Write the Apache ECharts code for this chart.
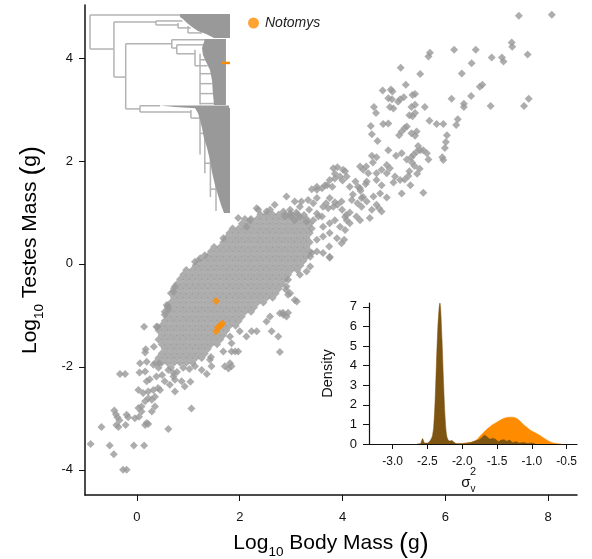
<!DOCTYPE html>
<html><head><meta charset="utf-8">
<script src="https://cdn.jsdelivr.net/npm/echarts@6/dist/echarts.min.js"></script>
<style>html,body{margin:0;padding:0;background:#fff}#c{width:592px;height:559px}</style>
</head><body><div id="c"></div>
<script>
// ---------- tick labels ----------
const xTicks = [0, 2, 4, 6, 8];
const yTicks = [-4, -2, 0, 2, 4];
const densXTicks = [-3.0, -2.5, -2.0, -1.5, -1.0, -0.5];
const densYTicks = [0, 1, 2, 3, 4, 5, 6, 7];

// ---------- scatter: dense core, rows of [log testes, [log body ...]] ----------
const coreRows = [
 [0.96,[2.40,2.52,2.64,2.76,2.88,3.00,3.12]],
 [0.87,[2.10,2.22,2.34,2.46,2.58,2.70,2.82,2.94,3.06,3.18,3.30]],
 [0.78,[2.04,2.16,2.28,2.40,2.52,2.64,2.76,2.88,3.00,3.12,3.24,3.36]],
 [0.69,[1.86,1.98,2.10,2.22,2.34,2.46,2.58,2.70,2.82,2.94,3.06,3.18,3.30,3.40]],
 [0.60,[1.80,1.92,2.04,2.16,2.28,2.40,2.52,2.64,2.76,2.88,3.00,3.12,3.24,3.36]],
 [0.51,[1.74,1.86,1.98,2.10,2.22,2.34,2.46,2.58,2.70,2.82,2.94,3.06,3.18,3.30]],
 [0.42,[1.68,1.80,1.92,2.04,2.16,2.28,2.40,2.52,2.64,2.76,2.88,3.00,3.12,3.24,3.36]],
 [0.33,[1.50,1.62,1.74,1.86,1.98,2.10,2.22,2.34,2.46,2.58,2.70,2.82,2.94,3.06,3.18,3.30]],
 [0.24,[1.44,1.56,1.68,1.80,1.92,2.04,2.16,2.28,2.40,2.52,2.64,2.76,2.88,3.00,3.12,3.24,3.36]],
 [0.15,[1.38,1.50,1.62,1.74,1.86,1.98,2.10,2.22,2.34,2.46,2.58,2.70,2.82,2.94,3.06,3.18,3.30]],
 [0.06,[1.20,1.32,1.44,1.56,1.68,1.80,1.92,2.04,2.16,2.28,2.40,2.52,2.64,2.76,2.88,3.00,3.12,3.24]],
 [-0.03,[1.14,1.26,1.38,1.50,1.62,1.74,1.86,1.98,2.10,2.22,2.34,2.46,2.58,2.70,2.82,2.94,3.06,3.18]],
 [-0.12,[0.96,1.08,1.20,1.32,1.44,1.56,1.68,1.80,1.92,2.04,2.16,2.28,2.40,2.52,2.64,2.76,2.88,3.00,3.12]],
 [-0.21,[0.90,1.02,1.14,1.26,1.38,1.50,1.62,1.74,1.86,1.98,2.10,2.22,2.34,2.46,2.58,2.70,2.82,2.94]],
 [-0.30,[0.84,0.96,1.08,1.20,1.32,1.44,1.56,1.68,1.80,1.92,2.04,2.16,2.28,2.40,2.52,2.64,2.76,2.88]],
 [-0.39,[0.78,0.90,1.02,1.14,1.26,1.38,1.50,1.62,1.74,1.86,1.98,2.10,2.22,2.34,2.46,2.58,2.70,2.82]],
 [-0.48,[0.72,0.84,0.96,1.08,1.20,1.32,1.44,1.56,1.68,1.80,1.92,2.04,2.16,2.28,2.40,2.52,2.64,2.76]],
 [-0.57,[0.66,0.78,0.90,1.02,1.14,1.26,1.38,1.50,1.62,1.74,1.86,1.98,2.10,2.22,2.34,2.46,2.58,2.70]],
 [-0.66,[0.72,0.84,0.96,1.08,1.20,1.32,1.44,1.56,1.68,1.80,1.92,2.04,2.16,2.28,2.40,2.52,2.64]],
 [-0.75,[0.66,0.78,0.90,1.02,1.14,1.26,1.38,1.50,1.62,1.74,1.86,1.98,2.10,2.22,2.34,2.46]],
 [-0.84,[0.60,0.72,0.84,0.96,1.08,1.20,1.32,1.44,1.56,1.68,1.80,1.92,2.04,2.16,2.28]],
 [-0.93,[0.54,0.66,0.78,0.90,1.02,1.14,1.26,1.38,1.50,1.62,1.74,1.86,1.98,2.10,2.22]],
 [-1.02,[0.60,0.72,0.84,0.96,1.08,1.20,1.32,1.44,1.56,1.68,1.80,1.92,2.04]],
 [-1.11,[0.54,0.66,0.78,0.90,1.02,1.14,1.26,1.38,1.50,1.62,1.74,1.86,1.98]],
 [-1.20,[0.48,0.60,0.72,0.84,0.96,1.08,1.20,1.32,1.44,1.56,1.68,1.80,1.92]],
 [-1.29,[0.42,0.54,0.66,0.78,0.90,1.02,1.14,1.26,1.38,1.50,1.62,1.74]],
 [-1.38,[0.48,0.60,0.72,0.84,0.96,1.08,1.20,1.32,1.44,1.56,1.68]],
 [-1.47,[0.42,0.54,0.66,0.78,0.90,1.02,1.14,1.26,1.38,1.50,1.62]],
 [-1.56,[0.48,0.60,0.72,0.84,0.96,1.08,1.20,1.32,1.44,1.56]],
 [-1.65,[0.54,0.66,0.78,0.90,1.02,1.14,1.26,1.38]],
 [-1.74,[0.48,0.60,0.72,0.84,0.96,1.08,1.20,1.32]],
 [-1.83,[0.42,0.54,0.66,0.78,0.90,1.02,1.14,1.26]],
 [-1.92,[0.36,0.48,0.60,0.72,0.84,0.96,1.08]]
];

// ---------- scatter: remaining species [log body, log testes] ----------
const otherPoints = [
 [-0.90,-3.50],[-0.53,-3.53],[-0.45,-3.70],[-0.27,-4.00],[-0.20,-4.00],[-0.06,-3.53],[0.14,-3.53],
 [-0.69,-3.17],[-0.44,-2.85],[-0.41,-2.92],[-0.38,-2.98],[-0.34,-3.04],[-0.40,-3.13],[-0.36,-3.17],
 [-0.20,-2.93],[-0.17,-2.98],[-0.22,-3.13],[-0.33,-2.14],[-0.23,-2.14],
 [-0.04,-3.00],[0.04,-2.97],[0.03,-2.80],[0.09,-2.77],[0.19,-3.09],[0.16,-3.13],[0.22,-3.11],
 [0.61,-3.21],[1.06,-2.81],
 [0.03,-2.45],[0.12,-2.51],[0.22,-2.48],[0.32,-2.45],[0.41,-2.41],[0.19,-2.28],[0.25,-2.24],[0.38,-2.19],
 [0.49,-2.16],[0.54,-2.28],[0.64,-2.35],[0.74,-2.48],[0.71,-2.19],[0.87,-2.28],[0.93,-2.38],[1.04,-2.29],
 [0.22,-2.61],[0.29,-2.64],[0.35,-2.77],[0.16,-2.67],[0.35,-2.58],[0.45,-2.45],[0.29,-2.87],[0.09,-2.87],
 [0.61,-2.06],[0.71,-2.12],[0.74,-2.25],[0.16,-2.09],[0.06,-1.93],[0.32,-1.96],[0.19,-1.90],[0.43,-1.93],
 [0.42,-2.02],[0.66,-2.02],[0.90,-2.02],[1.02,-2.04],[0.78,-2.10],[0.05,-2.11],
 [0.14,-1.22],[0.40,-1.22],[0.33,-1.61],[0.17,-1.66],[0.16,-1.72],[0.60,-0.82],
 [1.36,-2.14],[1.45,-1.99],[1.13,-1.99],[1.26,-2.06],[1.42,-1.86],[1.44,-1.81],[1.78,-2.03],[1.71,-1.99],
 [1.68,-1.70],[1.84,-1.70],[1.97,-1.70],[1.84,-1.54],[1.81,-1.41],[2.00,-1.31],
 [3.75,0.12],[3.17,-0.21],[3.30,-0.15],[3.37,-0.05],[3.40,0.21],[3.37,0.14],[3.11,-0.73],[2.84,-0.95],
 [2.94,-0.95],[2.75,-1.41],[2.78,-1.71],[2.62,-1.31],[2.23,-1.31],[2.33,-1.31],[2.13,-1.41],[1.91,-1.70],
 [1.84,-1.99],[1.81,-1.93],
 [2.94,-0.31],[2.91,-0.44],[2.98,-0.57],[2.52,-1.12],[2.59,-1.02],[2.85,-0.99],[2.91,-1.02],[2.78,-0.96],
 [3.07,-0.70],[2.94,-0.60],[2.90,-0.50],
 [1.13,0.04],[1.23,0.11],[1.32,0.17],[0.74,-0.44],[0.71,-0.54],[0.58,-0.80],[0.61,-0.89],[0.38,-1.22],
 [0.54,-0.99],[1.68,0.50],
 [2.68,1.15],[2.59,1.05],[2.85,1.02],[2.98,1.05],[3.17,1.11],[2.36,1.05],[2.52,1.02],[1.97,0.89],
 [2.20,0.85],[2.13,0.72],[2.33,1.08],[2.91,1.31],[3.07,1.21],[3.20,1.21],[3.33,1.24],[3.50,1.28],
 [3.40,1.45],[3.50,1.50],[3.60,1.47],[3.70,1.53],[3.80,1.50],[3.75,1.63],[3.85,1.75],[3.95,1.70],
 [4.05,1.80],[3.90,1.88],[4.00,1.62],
 [3.68,1.18],[3.75,1.28],[3.85,1.20],[3.90,1.15],[3.72,1.08],[3.99,1.05],[4.07,0.95],[4.14,1.00],[4.05,0.91],
 [3.10,1.00],[3.25,0.95],[3.35,1.05],[3.50,0.98],[3.60,0.92],[3.00,0.92],
 [4.27,0.92],[4.34,0.85],[4.53,0.89],[4.57,1.05],[4.29,1.18],[4.37,1.11],[4.47,1.21],
 [4.08,0.85],[4.03,0.47],[3.74,0.34],[3.75,0.14],
 [4.20,1.35],[4.30,1.50],[4.35,1.42],[4.45,1.55],[4.40,1.30],[4.25,1.60],
 [4.71,1.08],[4.76,1.02],[4.66,1.15],
 [4.86,1.29],[5.15,1.37],[5.32,1.53],[5.57,1.38],
 [5.28,1.71],[5.21,1.64],[5.12,1.63],[5.02,1.70],[4.99,1.58],
 [4.86,1.92],[4.92,1.86],[4.76,1.83],[4.86,1.76],
 [4.57,2.10],[4.66,2.07],[4.59,1.97],[4.40,1.83],[4.50,1.76],[4.66,1.76],[4.34,1.89],[4.46,1.89],
 [5.30,1.80],[5.40,1.90],[5.50,1.85],[5.35,1.97],[5.45,1.75],
 [5.04,2.10],[5.15,2.15],[5.25,2.03],[5.34,2.07],[5.38,2.12],[4.89,2.21],
 [5.47,2.29],[5.51,2.21],[5.44,2.18],[5.57,2.21],[5.64,2.15],[5.67,2.03],
 [5.94,2.07],[5.96,2.02],[6.03,2.50],[6.01,2.37],[5.99,2.25],
 [4.68,2.39],[4.57,2.52],[4.55,2.68],[4.79,2.72],[4.89,2.73],
 [5.15,2.57],[5.21,2.64],[5.25,2.67],[5.10,2.50],[5.34,2.54],[5.41,2.49],[5.44,2.57],
 [5.69,2.78],[5.83,2.72],[5.96,2.72],[5.30,2.89],[5.36,2.87],[5.41,2.93],
 [5.34,3.05],[5.41,3.09],[5.60,3.05],[4.61,3.05],[4.65,2.93],[4.92,3.05],[4.99,3.02],
 [4.89,3.22],[4.96,3.20],[5.08,3.15],[5.12,3.20],[5.19,3.24],[5.36,3.28],[5.41,3.30],
 [4.78,3.37],[4.94,3.39],[4.97,3.35],[5.23,3.48],[5.51,3.69],
 [7.43,4.82],[8.07,4.84],[7.29,4.30],[7.30,4.22],[7.60,4.07],[6.90,4.01],[7.10,4.01],[7.13,3.93],
 [6.59,4.16],[6.17,4.16],[6.51,3.90],[5.70,4.10],[5.67,4.03],[5.13,3.81],[6.32,3.70],[6.72,3.48],
 [6.67,3.44],[6.50,3.26],[6.12,3.21],[6.36,3.11],[6.36,3.05],[6.88,3.07],[7.62,3.21],[7.53,3.07],
 [6.24,2.81],[6.21,2.70],
 [2.88,0.92],[2.98,0.98],[3.07,0.85],[3.17,0.92],[3.30,0.82],[3.43,0.85],[3.53,0.92],[3.62,0.72],
 [3.75,0.79],[3.85,0.85],[3.95,0.72],[4.05,0.66],[4.14,0.79],[3.50,0.47],[3.62,0.53],[3.75,0.60],
 [3.89,0.50],[3.98,0.40],[3.50,0.24],[3.62,0.21],
 [3.82,1.86],[4.01,1.83],[4.08,1.70],[3.85,1.66],[3.66,1.53],[3.50,1.44],[4.14,1.50],[4.34,1.47],
 [4.47,1.60],[4.66,1.63],[4.76,1.53],[4.73,1.37],[4.60,1.31],[4.37,1.28],[4.18,1.24],[3.98,1.21],
 [3.82,1.11],[3.62,1.11],[3.43,1.18]
];

// ---------- Notomys species ----------
const notomysPoints = [[1.54,-0.72],[1.62,-1.20],[1.66,-1.16],[1.58,-1.23],[1.54,-1.31]];

// ---------- posterior densities of sigma_v^2 ----------
const densityNotomys = [
 [-2.05,0],[-1.98,0.03],[-1.90,0.06],[-1.84,0.12],[-1.79,0.22],[-1.74,0.42],[-1.69,0.6],[-1.65,0.74],
 [-1.58,0.95],[-1.51,1.1],[-1.45,1.22],[-1.41,1.3],[-1.36,1.35],[-1.31,1.37],[-1.26,1.36],[-1.22,1.31],
 [-1.17,1.17],[-1.12,0.99],[-1.07,0.85],[-1.03,0.73],[-0.98,0.63],[-0.93,0.54],[-0.88,0.43],[-0.84,0.33],
 [-0.79,0.22],[-0.74,0.12],[-0.69,0.05],[-0.64,0.02],[-0.58,0]
];
const densityOther = [
 [-2.65,0],[-2.60,0.02],[-2.57,0.28],[-2.54,0.05],[-2.50,0.05],[-2.46,0.18],[-2.43,0.4],[-2.41,0.9],
 [-2.39,2.2],[-2.37,4.2],[-2.35,6.0],[-2.33,7.05],[-2.32,7.2],[-2.31,6.9],[-2.29,5.3],[-2.27,3.3],
 [-2.25,1.6],[-2.23,0.6],[-2.21,0.25],[-2.18,0.15],[-2.15,0.18],[-2.12,0.1],[-2.08,0.02],[-2.00,0.02],
 [-1.95,0.05],[-1.88,0.08],[-1.82,0.15],[-1.76,0.22],[-1.72,0.32],[-1.68,0.45],[-1.64,0.36],[-1.60,0.25],
 [-1.56,0.3],[-1.52,0.24],[-1.48,0.12],[-1.44,0.2],[-1.40,0.22],[-1.36,0.14],[-1.32,0.2],[-1.28,0.08],
 [-1.22,0.12],[-1.18,0.05],[-1.12,0.08],[-1.06,0.03],[-1.00,0.05],[-0.95,0]
];

// ---------- phylogeny inset (depth 0..1, tip order 0..1) ----------
const treeBranches = [
 [0,0.005,0,0.176],[0,0.005,0.643,0.005],[0,0.176,0.171,0.176],
 [0.171,0.04,0.171,0.317],[0.171,0.04,0.471,0.04],[0.171,0.317,0.255,0.317],
 [0.255,0.149,0.255,0.477],[0.255,0.149,0.584,0.149],[0.255,0.477,0.357,0.477],
 [0.357,0.461,0.357,0.492],[0.357,0.461,0.5,0.461],[0.357,0.492,0.721,0.492],
 [0.471,0.035,0.471,0.055],[0.471,0.035,0.66,0.035],[0.471,0.055,0.629,0.055],
 [0.629,0.045,0.629,0.07],[0.629,0.07,0.72,0.07],[0.7,0.06,0.7,0.095],[0.7,0.095,0.8,0.095],
 [0.584,0.129,0.584,0.171],[0.584,0.129,0.83,0.129],[0.584,0.171,0.62,0.171],
 [0.62,0.155,0.62,0.2],[0.62,0.155,0.82,0.155],[0.62,0.2,0.75,0.2],
 [0.75,0.18,0.75,0.26],[0.75,0.26,0.84,0.26],[0.786,0.2,0.786,0.455],
 [0.786,0.23,0.86,0.23],[0.786,0.3,0.87,0.3],[0.786,0.35,0.87,0.35],[0.786,0.4,0.88,0.4],[0.786,0.45,0.89,0.45],
 [0.721,0.482,0.721,0.523],[0.721,0.523,0.786,0.523],[0.786,0.51,0.786,0.706],
 [0.786,0.6,0.82,0.6],[0.82,0.58,0.82,0.8],[0.82,0.75,0.86,0.75],[0.86,0.72,0.86,0.92],
 [0.86,0.88,0.9,0.88],[0.9,0.85,0.9,0.99]
];
const treeClades = [
 [[0.643,0],[1,0],[1,0.121],[0.886,0.121],[0.829,0.101],[0.771,0.085],[0.729,0.065],[0.693,0.045],[0.664,0.025],[0.643,0.015]],
 [[0.821,0.126],[0.971,0.126],[0.971,0.457],[0.886,0.457],[0.879,0.407],[0.871,0.332],[0.857,0.281],[0.829,0.241],[0.807,0.206],[0.8,0.171],[0.814,0.141]],
 [[0.5,0.46],[0.993,0.46],[0.993,0.472],[0.786,0.475],[0.607,0.467]],
 [[0.75,0.472],[1,0.472],[1,1],[0.957,1],[0.936,0.96],[0.914,0.91],[0.893,0.859],[0.871,0.794],[0.857,0.734],[0.836,0.673],[0.814,0.623],[0.8,0.573],[0.786,0.533],[0.771,0.497]]
];
const notomysTip = [[0.94,0.246,1.0,0.246]];

// ---------- build ----------
const FONT = "'Liberation Sans', Arial, Helvetica, sans-serif";
const GREY = '#999999', ORANGE = '#FF8C00', BROWN = '#7E5412';
const speciesPoints = [];
coreRows.forEach(r => r[1].forEach(x => speciesPoints.push([x, r[0]])));
otherPoints.forEach(p => speciesPoints.push(p));

const titleRich = {
  a: {fontSize: 21, fontFamily: FONT, color: '#000', lineHeight: 23, padding: [0,0,5,0], verticalAlign: 'bottom'},
  b: {fontSize: 13.5, fontFamily: FONT, color: '#000', lineHeight: 14, verticalAlign: 'bottom'},
  p: {fontSize: 27, fontFamily: FONT, color: '#000', lineHeight: 31, padding: [0,0,1,0], verticalAlign: 'bottom'}
};
const axisLineStyle = {color: '#111', width: 1.5};

const segRender = (color, width) => (params, api) => {
  const a = api.coord([api.value(0), api.value(1)]);
  const b = api.coord([api.value(2), api.value(3)]);
  return {type: 'line', shape: {x1: a[0], y1: a[1], x2: b[0], y2: b[1]}, style: {stroke: color, lineWidth: width}};
};

const option = {
  animation: false,
  backgroundColor: '#fff',
  grid: [
    {left: 85, top: 5, right: 15, bottom: 64, containLabel: false, outerBoundsMode: 'none'},
    {left: 369, top: 303, right: 15, bottom: 115, containLabel: false, outerBoundsMode: 'none'},
    {left: 90, top: 14, width: 140, height: 199, containLabel: false, outerBoundsMode: 'none'}
  ],
  xAxis: [
    {gridIndex: 0, type: 'value', min: -1.01, max: 8.56,
     axisLine: {show: true, onZero: false, lineStyle: axisLineStyle},
     axisTick: {show: true, length: 6, customValues: xTicks, lineStyle: {color: '#111', width: 1}},
     axisLabel: {customValues: xTicks, margin: 16, fontSize: 13, color: '#111', fontFamily: FONT},
     splitLine: {show: false},
     name: '{a|Log}{b|10}{a| Body Mass }{p|(}{a|g}{p|)}', nameLocation: 'middle', nameGap: 33,
     nameTextStyle: {rich: titleRich}},
    {gridIndex: 1, type: 'value', min: -3.34, max: -0.35,
     axisLine: {show: true, onZero: false, lineStyle: {color: '#111', width: 1.2}},
     axisTick: {show: true, length: 5, customValues: densXTicks, lineStyle: {color: '#111'}},
     axisLabel: {customValues: densXTicks, margin: 12, fontSize: 12, color: '#111', fontFamily: FONT,
                 formatter: v => v.toFixed(1)},
     splitLine: {show: false}},
    {gridIndex: 2, type: 'value', min: 0, max: 1, show: false}
  ],
  yAxis: [
    {gridIndex: 0, type: 'value', min: -4.49, max: 5.03,
     axisLine: {show: true, onZero: false, lineStyle: axisLineStyle},
     axisTick: {show: true, length: 6, customValues: yTicks, lineStyle: {color: '#111', width: 1}},
     axisLabel: {customValues: yTicks, margin: 12, fontSize: 13, color: '#111', fontFamily: FONT},
     splitLine: {show: false},
     name: '{a|Log}{b|10}{a| Testes Mass }{p|(}{a|g}{p|)}', nameLocation: 'middle', nameGap: 39,
     nameTextStyle: {rich: titleRich}},
    {gridIndex: 1, type: 'value', min: 0, max: 7.2,
     axisLine: {show: true, onZero: false, lineStyle: {color: '#111', width: 1.2}},
     axisTick: {show: true, length: 6, customValues: densYTicks, lineStyle: {color: '#111'}},
     axisLabel: {customValues: densYTicks, margin: 12, fontSize: 13, color: '#111', fontFamily: FONT},
     splitLine: {show: false},
     name: 'Density', nameLocation: 'middle', nameGap: 34,
     nameTextStyle: {fontSize: 14.5, color: '#111', fontFamily: FONT}},
    {gridIndex: 2, type: 'value', min: 0, max: 1, inverse: true, show: false}
  ],
  legend: {
    data: [{name: 'Notomys', icon: 'circle'}], left: 248, top: 16, padding: 0, itemWidth: 11, itemHeight: 11,
    selectedMode: false,
    textStyle: {fontStyle: 'italic', fontSize: 14, color: '#222', fontFamily: FONT, padding: [0,0,0,1]}
  },
  graphic: [
    {type: 'text', x: 466, y: 483, style: {text: 'σ', fontSize: 15, fontFamily: FONT, fill: '#111', align: 'center', verticalAlign: 'middle'}},
    {type: 'text', x: 473, y: 472, style: {text: '2', fontSize: 11, fontFamily: FONT, fill: '#111', align: 'center', verticalAlign: 'middle'}},
    {type: 'text', x: 473, y: 489, style: {text: 'v', fontSize: 10, fontFamily: FONT, fill: '#111', align: 'center', verticalAlign: 'middle'}}
  ],
  series: [
    {type: 'custom', name: 'branches', xAxisIndex: 2, yAxisIndex: 2, silent: true, clip: false,
     data: treeBranches, renderItem: segRender('#b3b3b3', 1.5)},
    {type: 'custom', name: 'clades', xAxisIndex: 2, yAxisIndex: 2, silent: true, clip: false,
     data: treeClades.map((c, i) => [i]),
     renderItem: (params, api) => ({type: 'polygon',
       shape: {points: treeClades[params.dataIndex].map(p => api.coord(p))},
       style: {fill: GREY}})},
    {type: 'custom', name: 'tip', xAxisIndex: 2, yAxisIndex: 2, silent: true, clip: false,
     data: notomysTip, renderItem: segRender(ORANGE, 2.5)},
    {type: 'scatter', name: 'species', xAxisIndex: 0, yAxisIndex: 0, data: speciesPoints,
     symbol: 'diamond', symbolSize: 8, itemStyle: {color: GREY}, silent: true},
    {type: 'scatter', name: 'Notomys', xAxisIndex: 0, yAxisIndex: 0, data: notomysPoints,
     symbol: 'diamond', symbolSize: 8, itemStyle: {color: ORANGE}, silent: true, z: 5},
    {type: 'line', name: 'notomysRate', xAxisIndex: 1, yAxisIndex: 1, data: densityNotomys,
     showSymbol: false, smooth: 0.3, lineStyle: {width: 0.5, color: ORANGE},
     areaStyle: {color: ORANGE, opacity: 1}, silent: true},
    {type: 'line', name: 'otherRate', xAxisIndex: 1, yAxisIndex: 1, data: densityOther,
     showSymbol: false, smooth: 0.25, lineStyle: {width: 0.5, color: BROWN},
     areaStyle: {color: BROWN, opacity: 1}, silent: true}
  ]
};
const chart = echarts.init(document.getElementById('c'), null, {renderer: 'canvas'});
chart.setOption(option);
</script>
</body></html>
